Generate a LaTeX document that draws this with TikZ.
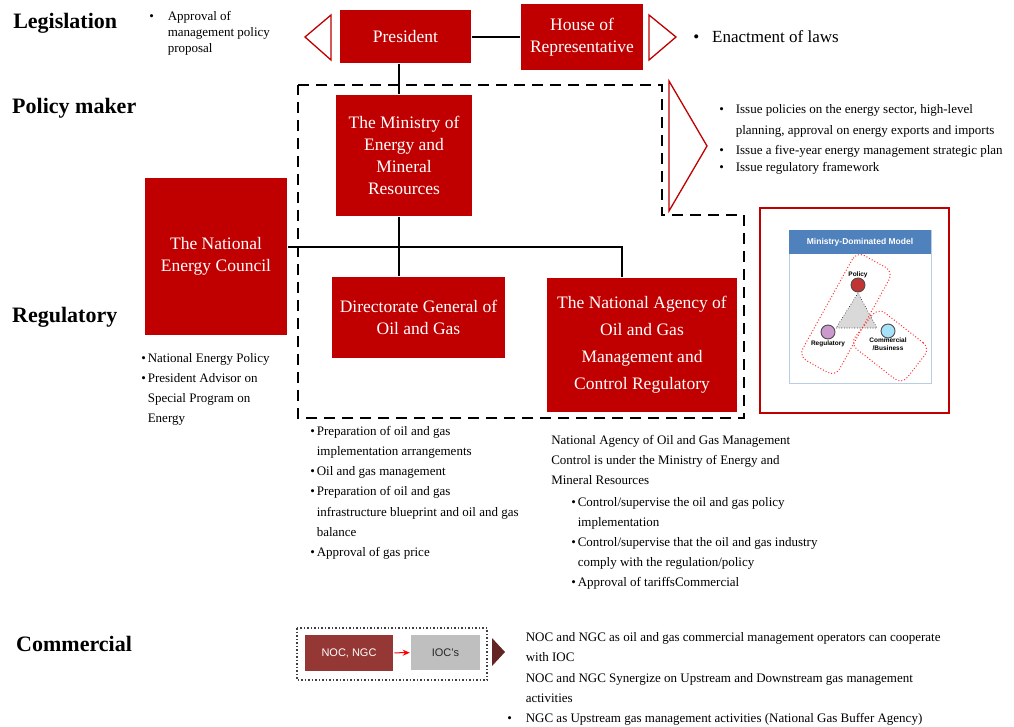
\documentclass[tikz,border=0pt]{standalone}
\usepackage{fontspec}
\setmainfont{Liberation Serif}
\setsansfont{Liberation Sans}
\usepackage{xcolor}
\usetikzlibrary{positioning}
\usetikzlibrary{calc}
\usetikzlibrary{math}
\usetikzlibrary{arrows.meta}

\definecolor{boxred}{HTML}{C00000}
\definecolor{nocred}{HTML}{953735}
\definecolor{darktip}{HTML}{632523}
\definecolor{headblue}{HTML}{4F81BD}
\definecolor{frameblue}{HTML}{B9CDE5}

\begin{document}
\begin{tikzpicture}[
  x=1pt, y=-1pt,
  line width=2.5pt,
  orgbox/.style={fill=boxred, text=white, align=center, inner sep=0pt,
    font=\fontsize{17.5}{22}\selectfont},
  heading/.style={anchor=west, inner sep=0pt, font=\bfseries\fontsize{22}{26}\selectfont},
  notes/.style={anchor=north west, align=left, inner sep=0pt},
  marker/.style={draw=boxred, fill=white, line width=1.3pt, line join=miter},
  ]

  \tikzmath{
    \trunk = 399; % x of the vertical connector
    \bus   = 247; % y of the regulatory bus line
    \drop  = 622; % x of the drop to the agency
  }

  \useasboundingbox (0,0) rectangle (1014,726);

  % Level headings
  \node[heading] (hleg) at (12,23)  {Legislation};
  \node[heading] (hpol) at (11,108) {Policy maker};
  \node[heading] (hreg) at (11,317) {Regulatory};
  \node[heading] (hcom) at (15,644) {Commercial};

  % Dashed region of the ministry
  \draw[line width=1.4pt, dash pattern=on 11pt off 7pt]
    (298,85) -- (662,85) -- (662,215) -- (744,215) -- (744,418) -- (298,418) -- cycle;

  % Legislation level
  \node[orgbox, minimum width=131, minimum height=53] (president) at (405.5,36.5) {President};
  \node[orgbox, minimum width=122, minimum height=66] (house) at (582,37) {House of\\Representative};
  \draw[marker] (305,37) -- (331,15) -- (331,60) -- cycle;
  \draw[marker] (649,15) -- (676,37) -- (649,60) -- cycle;

  % Policy maker level
  \node[orgbox, minimum width=136, minimum height=121] (ministry) at (404,155.5)
    {The Ministry of\\Energy and\\Mineral\\Resources};
  \draw[marker] (669,81) -- (707,146) -- (669,211) -- cycle;

  % Regulatory level
  \node[orgbox, minimum width=142, minimum height=157] (council) at (216,256.5)
    {The National\\Energy Council};
  \node[orgbox, minimum width=173, minimum height=81] (dirgen) at (418.5,317.5)
    {Directorate General of\\Oil and Gas};
  \node[orgbox, minimum width=190, minimum height=134, font=\fontsize{17.5}{27}\selectfont]
    (agency) at (642,345)
    {The National Agency of\\Oil and Gas\\Management and\\Control Regulatory};

  % Connectors
  \coordinate (tr) at (\trunk,\bus);
  \coordinate (dr) at (\drop,\bus);
  \draw (president.east |- house.west) -- (house.west);
  \draw (president.south -| tr) -- (ministry.north -| tr);
  \draw (ministry.south -| tr) -- (dirgen.north -| tr);
  \draw (council.east |- tr) -- (dr) -- (agency.north -| dr);

  % Notes
  \node[notes, font=\fontsize{13}{16}\selectfont] (legnote) at (148,8)
    {\begin{tabular}{@{}l@{\hspace{14pt}}l@{}}
      \textbullet & Approval of\\
                  & management policy\\
                  & proposal
    \end{tabular}};
  \node[notes, anchor=west, font=\fontsize{17}{20}\selectfont] (lawnote) at (692,37)
    {\textbullet\hspace{13pt}Enactment of laws};
  \node[notes, font=\fontsize{13}{20}\selectfont] (polnote) at (718,98)
    {\begin{tabular}{@{}l@{\hspace{12pt}}l@{}}
      \textbullet & Issue policies on the energy sector, high-level\\[1pt]
                  & planning, approval on energy exports and imports\\
      \textbullet & Issue a five-year energy management strategic plan\\[-3pt]
      \textbullet & Issue regulatory framework
    \end{tabular}};
  \node[notes, font=\fontsize{13}{20}\selectfont] (counote) at (140,347)
    {\begin{tabular}{@{}l@{\hspace{2pt}}l@{}}
      \textbullet & National Energy Policy\\
      \textbullet & President Advisor on\\
                  & Special Program on\\
                  & Energy
    \end{tabular}};
  \node[notes, font=\fontsize{13}{20.2}\selectfont] (dirnote) at (309,420)
    {\begin{tabular}{@{}l@{\hspace{2pt}}l@{}}
      \textbullet & Preparation of oil and gas\\
                  & implementation arrangements\\
      \textbullet & Oil and gas management\\
      \textbullet & Preparation of oil and gas\\
                  & infrastructure blueprint and oil and gas\\
                  & balance\\
      \textbullet & Approval of gas price
    \end{tabular}};
  \node[notes, font=\fontsize{13}{20}\selectfont] (agnote) at (550,434)
    {National Agency of Oil and Gas Management\\
     Control is under the Ministry of Energy and\\
     Mineral Resources};
  \node[notes, font=\fontsize{13}{20.2}\selectfont, below=5pt of agnote.south west, anchor=north west,
    xshift=20] (aglist)
    {\begin{tabular}{@{}l@{\hspace{2pt}}l@{}}
      \textbullet & Control/supervise the oil and gas policy\\
                  & implementation\\
      \textbullet & Control/supervise that the oil and gas industry\\
                  & comply with the regulation/policy\\
      \textbullet & Approval of tariffsCommercial
    \end{tabular}};

  % Ministry-dominated model inset
  \draw[boxred, line width=2pt] (760,208) rectangle (949,413);
  \draw[frameblue, line width=1pt, fill=white] (789,230) rectangle (931,383);
  \fill[headblue] (789,230) rectangle (931,254);
  \node[text=white, font=\sffamily\bfseries\fontsize{8.5}{10}\selectfont] (mhead) at (860,242)
    {Ministry-Dominated Model};
  \coordinate (cpol) at (858,285);
  \coordinate (creg) at (828,332);
  \coordinate (ccom) at (888,331);
  \draw[fill=black!15, line width=0.6pt, dotted] (858,293) -- (836,328) -- (877,328) -- cycle;
  \draw[line width=0.9pt, black!70, fill=red!70!black!80] (cpol) circle (7);
  \draw[line width=0.9pt, black!70, fill=violet!40] (creg) circle (7);
  \draw[line width=0.9pt, black!70, fill=cyan!35] (ccom) circle (7);
  \node[font=\sffamily\bfseries\fontsize{6.5}{7}\selectfont, above=6pt of cpol, inner sep=0pt] (lpol) {Policy};
  \node[font=\sffamily\bfseries\fontsize{6.5}{7}\selectfont, below=8pt of creg, inner sep=0pt] (lreg) {Regulatory};
  \node[font=\sffamily\bfseries\fontsize{6.5}{8}\selectfont, below=6pt of ccom, inner sep=0pt, align=center] (lcom)
    {Commercial\\/Business};
  \node[draw=red!80, line width=1pt, dotted, rounded corners=9pt, minimum width=120, minimum height=42,
    rotate=61] (ringa) at (846,314) {};
  \node[draw=red!80, line width=1pt, dotted, rounded corners=9pt, minimum width=66, minimum height=46,
    rotate=-38] (ringb) at (890,346) {};

  % Commercial level
  \draw[black!75, line width=1.5pt, dotted] (297,628) rectangle (487,680);
  \node[fill=nocred, text=white, minimum width=88, minimum height=36, inner sep=0pt,
    font=\sffamily\fontsize{11}{13}\selectfont] (noc) at (349,653) {NOC, NGC};
  \node[fill=black!25, text=black!85, minimum width=69, minimum height=35, inner sep=0pt,
    font=\sffamily\fontsize{11}{13}\selectfont] (ioc) at (445.5,652.5) {IOC's};
  \draw[red, line width=1pt, -{Stealth[length=7pt, width=6pt]}] (noc) -- (ioc);
  \fill[darktip] (492,638) -- (505,652) -- (492,666) -- cycle;
  \node[notes, font=\fontsize{13}{20.3}\selectfont] (comnote) at (506,626)
    {\begin{tabular}{@{}l@{\hspace{14pt}}l@{}}
                  & NOC and NGC as oil and gas commercial management operators can cooperate\\
                  & with IOC\\
                  & NOC and NGC Synergize on Upstream and Downstream gas management\\
                  & activities\\
      \textbullet & NGC as Upstream gas management activities (National Gas Buffer Agency)
    \end{tabular}};

\end{tikzpicture}
\end{document}
